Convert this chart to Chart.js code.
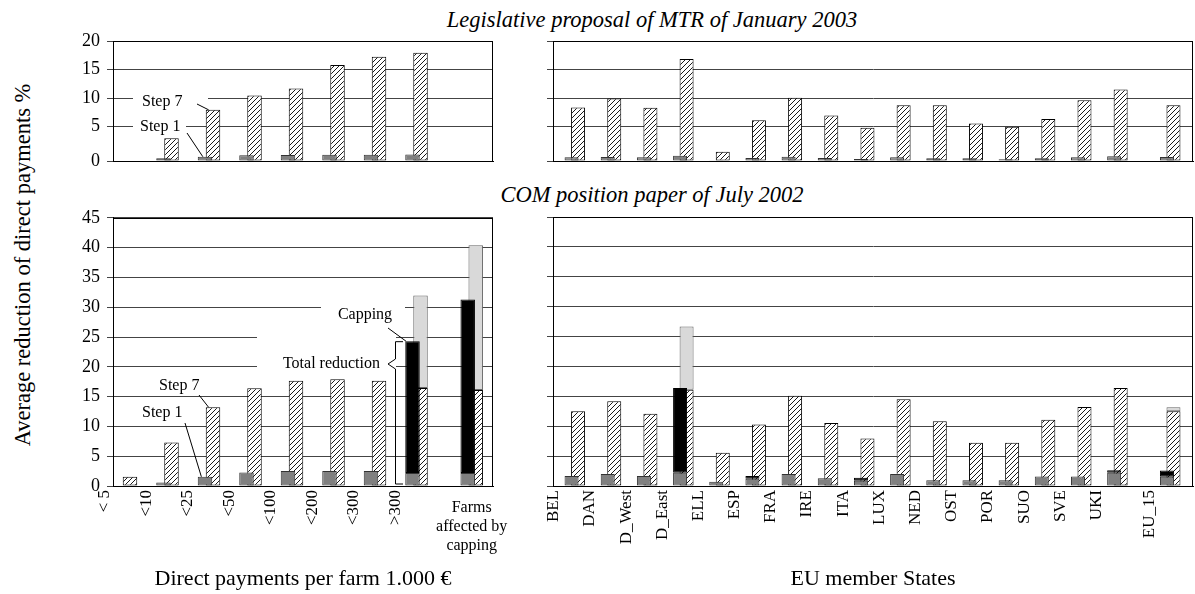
<!DOCTYPE html>
<html>
<head>
<meta charset="utf-8">
<script src="https://cdn.jsdelivr.net/npm/chart.js@4.4.1/dist/chart.umd.min.js"></script>
<style>
  body { margin: 0; background: #fff; width: 1195px; height: 594px; position: relative; overflow: hidden; font-family: "Liberation Serif", serif; color: #000; }
  .pane { position: absolute; }
  .title { position: absolute; left: 352px; width: 600px; text-align: center; font-style: italic; font-size: 22.5px; line-height: 26px; }
  #ytitle { position: absolute; left: 23px; top: 265px; transform: translate(-50%, -50%) rotate(-90deg); white-space: nowrap; font-size: 22.5px; }
</style>
</head>
<body>
<div class="title" style="top:7px">Legislative proposal of MTR of January 2003</div>
<div class="title" style="top:182px">COM position paper of July 2002</div>
<div id="ytitle">Average reduction of direct payments %</div>
<div class="pane" style="left:0;top:0;width:500px;height:180px"><canvas id="tl"></canvas></div>
<div class="pane" style="left:530px;top:0;width:665px;height:180px"><canvas id="tr"></canvas></div>
<div class="pane" style="left:0;top:200px;width:530px;height:394px"><canvas id="bl"></canvas></div>
<div class="pane" style="left:530px;top:200px;width:665px;height:394px"><canvas id="br"></canvas></div>
<script>
// categories
const sizeClasses = ['< 5', '<10', '<25', '<50', '<100', '<200', '<300', '>300', ['Farms', 'affected by', 'capping']];
const sizePos = [0, 1, 2, 3, 4, 5, 6, 7, 8.33];
const memberStates = ['BEL', 'DAN', 'D_West', 'D_East', 'ELL', 'ESP', 'FRA', 'IRE', 'ITA', 'LUX', 'NED', 'OST', 'POR', 'SUO', 'SVE', 'UKI', 'EU_15'];
const statePos = [0, 1, 2, 3, 4, 5, 6, 7, 8, 9, 10, 11, 12, 13, 14, 15, 16.46];

// legislative proposal, January 2003 (top axis: bottom line labelled 0)
const topTickValues = [0, 6, 11, 16, 21];
const topTickLabels = ['0', '5', '10', '15', '20'];
const mtrStep1Size = [null, 0.47, 0.75, 1.0, 1.05, 1.1, 1.1, 1.15, null];
const mtrStep7Size = [null, 4.0, 8.95, 11.45, 12.7, 16.8, 18.25, 18.95, null];
const mtrStep1State = [0.64, 0.7, 0.64, 0.93, 0.12, 0.52, 0.76, 0.52, 0.35, 0.64, 0.47, 0.47, 0.29, 0.47, 0.64, 0.81, 0.7];
const mtrStep7State = [9.36, 10.93, 9.3, 17.85, 1.63, 7.15, 11.05, 7.97, 5.81, 9.77, 9.77, 6.57, 5.99, 7.33, 10.64, 12.5, 9.77];

// COM position paper, July 2002
const comStep1Size = [0, 0.6, 1.55, 2.28, 2.5, 2.5, 2.5, 2.2, 2.2];
const comCap1Size  = [0, 0, 0, 0, 0, 0, 0, 22.1, 29.1];
const comStep7Size = [1.55, 7.28, 13.2, 16.4, 17.67, 17.9, 17.67, 16.45, 16.1];
const comCap7Size  = [0, 0, 0, 0, 0, 0, 0, 15.5, 24.3];
const comStep1State = [1.67, 2.0, 1.67, 2.2, 0.72, 1.2, 2.0, 1.28, 0.89, 2.0, 0.95, 0.95, 0.95, 1.6, 1.6, 2.2, 1.55];
const comCap1State  = [0, 0, 0, 14.2, 0, 0.47, 0, 0, 0.47, 0, 0, 0, 0, 0, 0, 0.42, 1.05];
const comStep7State = [12.5, 14.17, 12.1, 16.1, 5.56, 10.3, 15.1, 10.55, 7.94, 14.5, 10.83, 7.22, 7.22, 11.1, 13.2, 16.4, 12.5];
const comCap7State  = [0, 0, 0, 10.6, 0, 0, 0, 0, 0, 0, 0, 0, 0, 0, 0, 0, 0.67];

Chart.defaults.font.family = '"Liberation Serif", serif';
Chart.defaults.color = '#000';

// diagonal hatch for step 7
const tile = document.createElement('canvas');
tile.width = 5; tile.height = 5;
const tg = tile.getContext('2d');
tg.fillStyle = '#fff'; tg.fillRect(0, 0, 5, 5);
tg.strokeStyle = '#000'; tg.lineWidth = 0.9;
tg.beginPath();
tg.moveTo(0, 5); tg.lineTo(5, 0);
tg.moveTo(-1, 1); tg.lineTo(1, -1);
tg.moveTo(4, 6); tg.lineTo(6, 4);
tg.stroke();
const hatch = document.createElement('canvas').getContext('2d').createPattern(tile, 'repeat');

const GREY = '#808080', BLACK = '#000', LIGHT = '#d9d9d9';

function series(pos, vals, stack, bg, border, cat, bar) {
  return {
    data: pos.map((p, i) => ({ x: p, y: vals[i] })),
    stack: stack, backgroundColor: bg, borderColor: border, borderWidth: 1,
    borderSkipped: false, categoryPercentage: cat, barPercentage: bar
  };
}

const frame = {
  id: 'frame',
  beforeDatasetsDraw(chart) {
    const { ctx, chartArea: a } = chart;
    ctx.save();
    ctx.strokeStyle = '#000'; ctx.lineWidth = 1;
    ctx.strokeRect(Math.round(a.left) + 0.5, Math.round(a.top) + 0.5, Math.round(a.right - a.left) - 1, Math.round(a.bottom - a.top));
    ctx.restore();
  }
};

function notesPlugin(notes, extra) {
  return {
    id: 'notes',
    beforeDatasetsDraw(chart) {
      const ctx = chart.ctx;
      ctx.save();
      ctx.fillStyle = '#fff';
      notes.forEach(n => { if (n.box) ctx.fillRect(n.box[0], n.box[1], n.box[2], n.box[3]); });
      ctx.restore();
    },
    afterDatasetsDraw(chart) {
      const ctx = chart.ctx;
      ctx.save();
      ctx.font = '16px "Liberation Serif"';
      ctx.fillStyle = '#000'; ctx.strokeStyle = '#000'; ctx.lineWidth = 1;
      ctx.textBaseline = 'middle';
      notes.forEach(n => {
        ctx.textAlign = n.align || 'left';
        ctx.fillText(n.text, n.x, n.y);
        if (n.from) {
          const el = chart.getDatasetMeta(n.ds).data[n.idx];
          ctx.beginPath();
          ctx.moveTo(n.from[0], n.from[1]);
          ctx.lineTo(el.x + n.dx * el.width, el.y);
          ctx.stroke();
        }
      });
      ctx.restore();
      if (extra) extra(chart);
    }
  };
}

function panel(id, cfg) {
  return new Chart(document.getElementById(id), {
    type: 'bar',
    data: { datasets: cfg.datasets },
    options: {
      responsive: true, maintainAspectRatio: false, animation: false,
      layout: { padding: cfg.padding },
      plugins: { legend: { display: false }, tooltip: { enabled: false } },
      scales: {
        x: {
          type: 'linear', offset: false, stacked: true, min: cfg.xMin, max: cfg.xMax,
          grid: { display: false, drawTicks: false },
          border: { color: '#000' },
          afterBuildTicks: ax => { ax.ticks = cfg.pos.map(v => ({ value: v })); },
          afterFit: ax => { ax.height = cfg.xHeight; },
          ticks: {
            display: !!cfg.labels, autoSkip: false, minRotation: 90, maxRotation: 90,
            padding: 4, labelOffset: cfg.labelOffset || 0, font: { size: 17 }, color: '#000',
            callback: (v, i) => {
              const l = cfg.labels ? cfg.labels[i] : '';
              return Array.isArray(l) ? '' : l;
            }
          },
          title: cfg.xTitle
            ? { display: true, text: cfg.xTitle, font: { size: 22 }, color: '#000', padding: { top: 0, bottom: 2 } }
            : { display: false }
        },
        y: {
          stacked: true, min: 0, max: cfg.yMax,
          grid: { color: '#444', tickLength: 6 },
          border: { color: '#000' },
          afterBuildTicks: ax => { if (cfg.yTicks) ax.ticks = cfg.yTicks.map(v => ({ value: v })); },
          afterFit: ax => { ax.width = cfg.yWidth; },
          ticks: {
            display: cfg.yLabels !== false, stepSize: 5, padding: 7, font: { size: 18 }, color: '#000',
            callback: (v, i) => cfg.yTickLabels ? cfg.yTickLabels[i] : v
          }
        }
      }
    },
    plugins: [frame].concat(cfg.plugins || [])
  });
}

const L_CAT = 0.386, L_BAR = 1.81, R_CAT = 0.36, R_BAR = 2.15;

// top left: size classes, January 2003
panel('tl', {
  datasets: [
    series(sizePos, mtrStep1Size, 'a', GREY, '#333', L_CAT, L_BAR),
    series(sizePos, mtrStep7Size, 'b', hatch, '#000', L_CAT, L_BAR)
  ],
  pos: sizePos, xMin: -0.313, xMax: 8.843, xHeight: 19,
  yMax: 21, yTicks: topTickValues, yTickLabels: topTickLabels, yWidth: 113,
  padding: { top: 41, right: 7, left: 0, bottom: 0 },
  plugins: [notesPlugin([
    { text: 'Step 7', x: 142, y: 102, box: [133, 93, 75, 18], from: [197, 104], ds: 1, idx: 2, dx: -0.3 },
    { text: 'Step 1', x: 140, y: 127, box: [133, 118, 53, 18], from: [187, 133], ds: 0, idx: 2, dx: -0.15 }
  ])]
});

// top right: member states, January 2003
panel('tr', {
  datasets: [
    series(statePos, mtrStep1State, 'a', GREY, '#333', R_CAT, R_BAR),
    series(statePos, mtrStep7State, 'b', hatch, '#000', R_CAT, R_BAR)
  ],
  pos: statePos, xMin: -0.603, xMax: 17.09, xHeight: 19,
  yMax: 21, yTicks: topTickValues, yTickLabels: topTickLabels, yLabels: false, yWidth: 23,
  padding: { top: 41, right: 2, left: 0, bottom: 0 }
});

// bottom left: size classes, July 2002
panel('bl', {
  datasets: [
    series(sizePos, comStep1Size, 'a', GREY, '#333', L_CAT, L_BAR),
    series(sizePos, comCap1Size, 'a', BLACK, '#000', L_CAT, L_BAR),
    series(sizePos, comStep7Size, 'b', hatch, '#000', L_CAT, L_BAR),
    series(sizePos, comCap7Size, 'b', LIGHT, '#666', L_CAT, L_BAR)
  ],
  pos: sizePos, labels: sizeClasses, labelOffset: -21, xMin: -0.313, xMax: 8.843, xHeight: 108,
  xTitle: 'Direct payments per farm 1.000 €',
  yMax: 45, yWidth: 113,
  padding: { top: 17, right: 37, left: 0, bottom: 0 },
  plugins: [notesPlugin([
    { text: 'Step 7', x: 159, y: 186, box: [157, 177, 46, 18], from: [199, 195], ds: 2, idx: 2, dx: -0.3 },
    { text: 'Step 1', x: 142, y: 213, box: [140, 204, 45, 18], from: [185, 223], ds: 0, idx: 2, dx: -0.25 },
    { text: 'Capping', x: 365, y: 115, align: 'center', box: [321, 100, 84, 27], from: [388, 128], ds: 1, idx: 7, dx: -0.45 },
    { text: 'Total reduction', x: 380, y: 164, align: 'right', box: [257, 130, 139, 43] }
  ], chart => {
    const ctx = chart.ctx;
    const cap = chart.getDatasetMeta(1).data[7];
    const y0 = chart.scales.y.getPixelForValue(0);
    ctx.save();
    ctx.strokeStyle = '#000'; ctx.lineWidth = 1;
    ctx.beginPath();
    ctx.moveTo(403, cap.y + 0.5); ctx.lineTo(395.5, cap.y + 0.5);
    ctx.lineTo(395.5, 159); ctx.lineTo(388, 164); ctx.lineTo(395.5, 169);
    ctx.lineTo(395.5, y0 - 2); ctx.lineTo(403, y0 - 2);
    ctx.stroke();
    // horizontal label under the last group
    const fx = chart.scales.x.getPixelForValue(sizePos[8]);
    const b = chart.chartArea.bottom;
    ctx.font = '16px "Liberation Serif"';
    ctx.fillStyle = '#000'; ctx.textAlign = 'center'; ctx.textBaseline = 'middle';
    sizeClasses[8].forEach((line, i) => ctx.fillText(line, fx, b + 22 + i * 19));
    ctx.restore();
  })]
});

// bottom right: member states, July 2002
panel('br', {
  datasets: [
    series(statePos, comStep1State, 'a', GREY, '#333', R_CAT, R_BAR),
    series(statePos, comCap1State, 'a', BLACK, '#000', R_CAT, R_BAR),
    series(statePos, comStep7State, 'b', hatch, '#000', R_CAT, R_BAR),
    series(statePos, comCap7State, 'b', LIGHT, '#666', R_CAT, R_BAR)
  ],
  pos: statePos, labels: memberStates, labelOffset: -21, xMin: -0.603, xMax: 17.09, xHeight: 108,
  xTitle: 'EU member States',
  yMax: 45, yLabels: false, yWidth: 23,
  padding: { top: 17, right: 2, left: 0, bottom: 0 }
});
</script>
</body>
</html>
